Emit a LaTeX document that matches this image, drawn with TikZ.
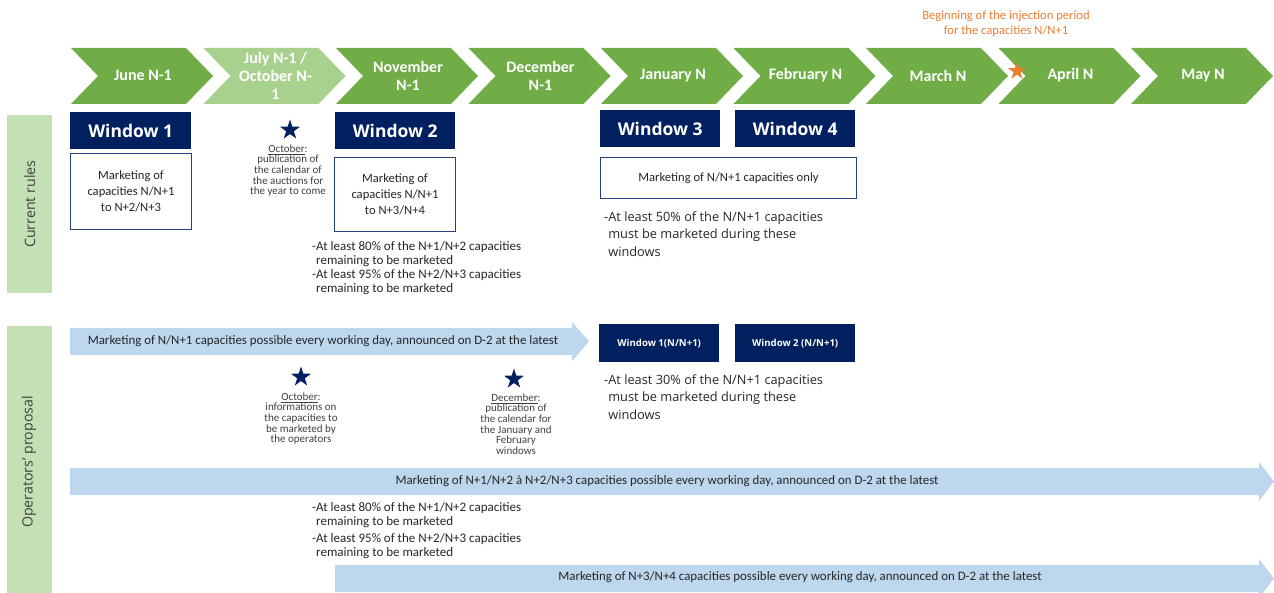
\documentclass[tikz,border=0pt]{standalone}
\usepackage{fontspec}
\setmainfont{Carlito}
\newfontfamily\osans{Open Sans}
\usetikzlibrary{shapes.geometric}
\definecolor{dgreen}{HTML}{70AD47}
\definecolor{lgreen}{HTML}{A9D18E}
\definecolor{pgreen}{HTML}{C5E0B4}
\definecolor{navy}{HTML}{002060}
\definecolor{lblue}{HTML}{BDD7EE}
\definecolor{orng}{HTML}{ED7D31}
\definecolor{txt}{HTML}{262626}
\definecolor{gtxt}{HTML}{404040}
\begin{document}
\begin{tikzpicture}[x=1pt,y=-1pt,
  chevtext/.style={text=white, align=center, inner sep=0pt, font=\bfseries\fontsize{16}{18}\selectfont},
  winbox/.style={fill=navy, text=white, inner sep=0pt, anchor=north west, minimum height=37, font=\osans\bfseries\fontsize{17.5}{20}\selectfont},
  smallwin/.style={fill=navy, text=white, inner sep=0pt, anchor=north west, minimum height=38, minimum width=120, font=\osans\bfseries\fontsize{9.6}{11}\selectfont},
  whitebox/.style={draw=navy!85, line width=1pt, fill=white, anchor=north west, inner sep=0pt},
  boxtext/.style={align=center, inner sep=0pt, text=txt, font=\fontsize{12.6}{16}\selectfont},
  sidebox/.style={fill=pgreen, anchor=north west, minimum width=45, inner sep=0pt},
  sidetext/.style={rotate=90, text=gtxt, inner sep=0pt, font=\osans\fontsize{14.2}{16}\selectfont},
  navystar/.style={star, star points=5, star point ratio=2.6, fill=navy, minimum size=21, inner sep=0pt},
  startext/.style={align=center, anchor=north, inner sep=0pt, text=gtxt, font=\fontsize{11}{10.6}\selectfont},
  bullet/.style={align=left, anchor=north west, inner sep=0pt, text=txt, font=\fontsize{13}{13.6}\selectfont},
  obullet/.style={align=left, anchor=north west, inner sep=0pt, text=txt, font=\osans\fontsize{12.8}{17.5}\selectfont},
  arrowtext/.style={inner sep=0pt, text=txt, font=\fontsize{12.9}{14}\selectfont}
]
\useasboundingbox (0,0) rectangle (1274,593);
\clip (0,0) rectangle (1274,593);

% timeline chevrons
\foreach \i/\lab/\col in {0/June N-1/dgreen, 1/{July N-1 /\\October N-\\1}/lgreen, 2/{November\\N-1}/dgreen, 3/{December\\N-1}/dgreen, 4/January N/dgreen, 5/February N/dgreen, 6/March N/dgreen, 7/April N/dgreen, 8/May N/dgreen}{
  \pgfmathsetmacro{\xo}{71+132.5*\i}
  \fill[\col] (\xo,48) -- (\xo+115,48) -- (\xo+142,76) -- (\xo+115,104) -- (\xo,104) -- (\xo+27,76) -- cycle;
  \node[chevtext] (m\i) at (\xo+72,75.5) {\lab};
}

% injection period marker
\node[align=center, inner sep=0pt, text=orng, font=\fontsize{12.6}{15}\selectfont] (inj) at (1006,23.5) {Beginning of the injection period\\for the capacities N/N+1};
\node[star, star points=5, star point ratio=2.6, fill=orng, minimum size=19, inner sep=0pt] (ostar) at (1017,71) {};

% side labels
\node[sidebox, minimum height=178] (cr) at (7,115) {};
\node[sidetext] (crt) at (cr.center) {Current rules};
\node[sidebox, minimum height=267] (op) at (7,326) {};
\node[sidetext] (opt) at (29,462) {Operators’ proposal};

% current rules
\node[winbox, minimum width=121] (w1) at (70,112) {Window 1};
\node[winbox, minimum width=120] (w2) at (335,112) {Window 2};
\node[winbox, minimum width=120] (w3) at (600,110) {Window 3};
\node[winbox, minimum width=120] (w4) at (735,110) {Window 4};

\node[whitebox, minimum width=121, minimum height=76] (b1) at (70,153) {};
\node[boxtext] (b1t) at (b1.center) {Marketing of\\capacities N/N+1\\to N+2/N+3};
\node[whitebox, minimum width=121, minimum height=74] (b2) at (334,157) {};
\node[boxtext] (b2t) at (b2.center) {Marketing of\\capacities N/N+1\\to N+3/N+4};
\node[whitebox, minimum width=256, minimum height=41] (b3) at (600,157) {};
\node[boxtext] (b3t) at (b3.center) {Marketing of N/N+1 capacities only};

\node[navystar] (s1) at (290,130) {};
\node[startext] (s1t) at (288,144.5) {\underline{October}:\\publication of\\the calendar of\\the auctions for\\the year to come};

\node[bullet] (c1) at (312,241.5) {-At least 80\% of the N+1/N+2 capacities\\\hphantom{-}remaining to be marketed};
\node[bullet] (c2) at (312,269.5) {-At least 95\% of the N+2/N+3 capacities\\\hphantom{-}remaining to be marketed};
\node[obullet] (c3) at (604,211.5) {-At least 50\% of the N/N+1 capacities\\\hphantom{-}must be marketed during these\\\hphantom{-}windows};

% operators' proposal
\fill[lblue] (70,328) -- (572,328) -- (572,322) -- (589,341.5) -- (572,361) -- (572,355) -- (70,355) -- cycle;
\node[arrowtext] (a1t) at (323,341) {Marketing of N/N+1 capacities possible every working day, announced on D-2 at the latest};

\node[smallwin] (ow1) at (599,324) {Window 1(N/N+1)};
\node[smallwin] (ow2) at (735,324) {Window 2 (N/N+1)};

\node[obullet] (c4) at (604,374.5) {-At least 30\% of the N/N+1 capacities\\\hphantom{-}must be marketed during these\\\hphantom{-}windows};

\node[navystar] (s2) at (301,377) {};
\node[startext] (s2t) at (301,392.5) {\underline{October}:\\informations on\\the capacities to\\be marketed by\\the operators};
\node[navystar] (s3) at (514,379) {};
\node[startext] (s3t) at (516,393.5) {\underline{December}:\\publication of\\the calendar for\\the January and\\February\\windows};

\fill[lblue] (70,468) -- (1259,468) -- (1259,462) -- (1274,481.5) -- (1259,501) -- (1259,495) -- (70,495) -- cycle;
\node[arrowtext] (a2t) at (667,481) {Marketing of N+1/N+2 à N+2/N+3 capacities possible every working day, announced on D-2 at the latest};

\node[bullet] (d1) at (312,502.5) {-At least 80\% of the N+1/N+2 capacities\\\hphantom{-}remaining to be marketed};
\node[bullet] (d2) at (312,533.5) {-At least 95\% of the N+2/N+3 capacities\\\hphantom{-}remaining to be marketed};

\fill[lblue] (335,565) -- (1259,565) -- (1259,559) -- (1274,578.5) -- (1259,598) -- (1259,592) -- (335,592) -- cycle;
\node[arrowtext] (a3t) at (800,577) {Marketing of N+3/N+4 capacities possible every working day, announced on D-2 at the latest};
\end{tikzpicture}
\end{document}
